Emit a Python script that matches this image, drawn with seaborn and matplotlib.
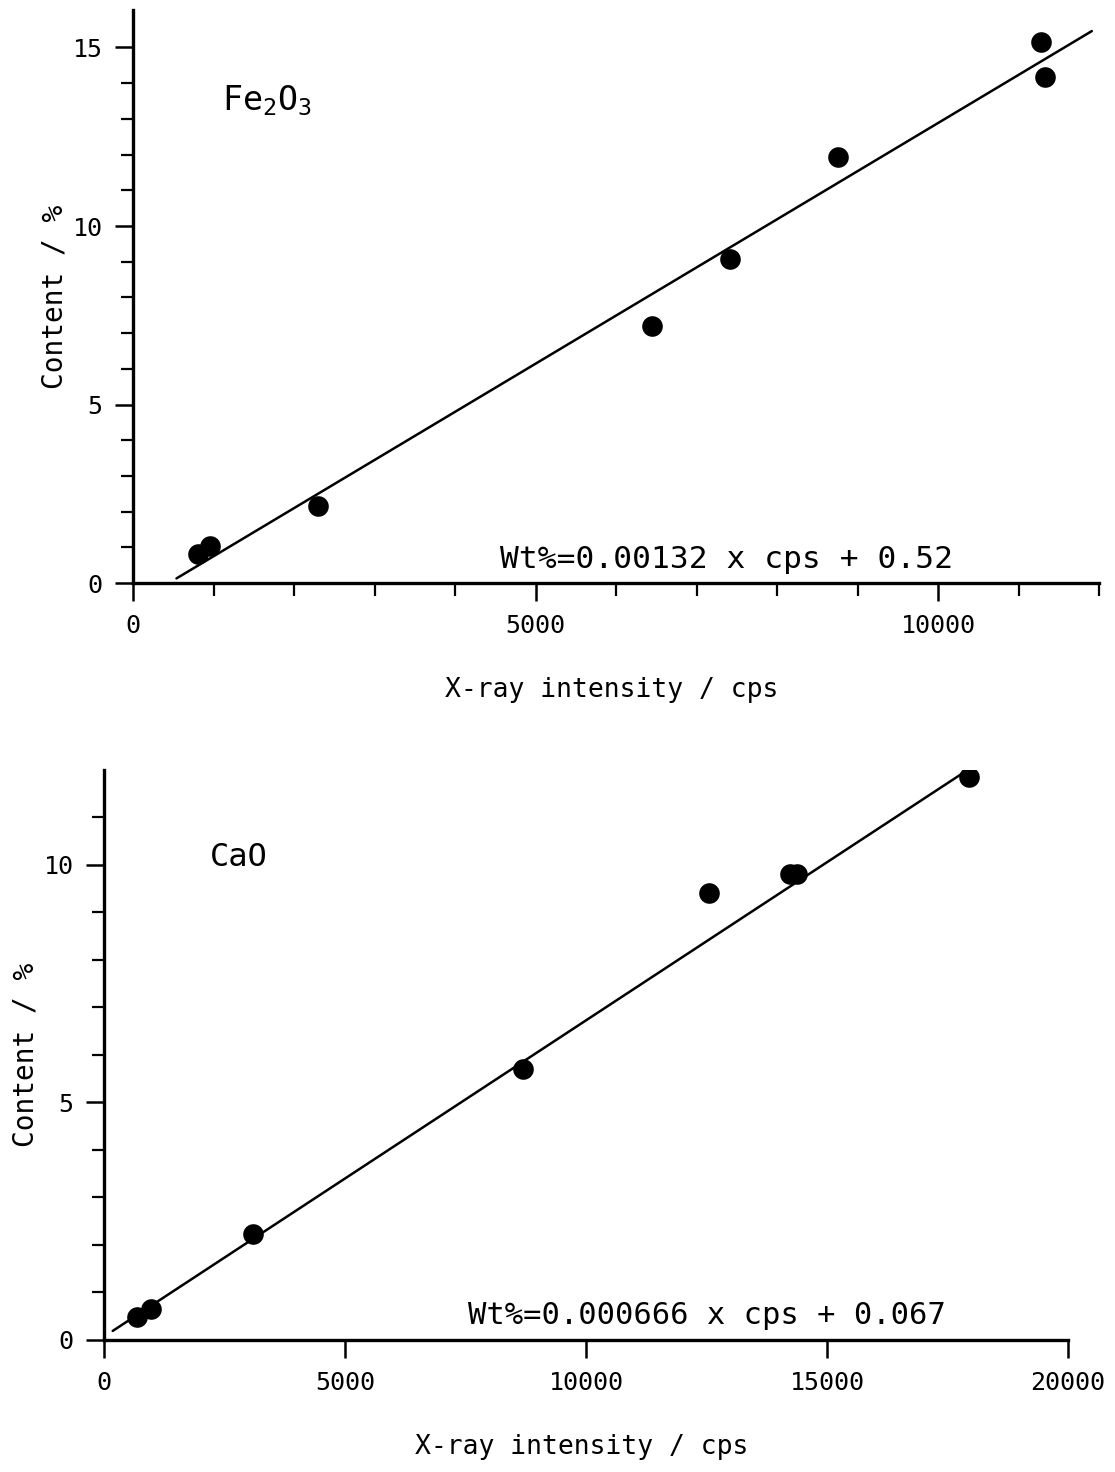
import matplotlib
matplotlib.use('Agg')
import matplotlib.pyplot as plt
import seaborn as sns
import pandas as pd
from matplotlib.ticker import FixedLocator

# ---------------- data ----------------
fe_cps = [806, 951, 2300, 6445, 7418, 8763, 11276, 11326]
fe_content = [0.80, 1.04, 2.16, 7.21, 9.09, 11.94, 15.15, 14.18]
fe_fit_cps = [540, 11910]
fe_fit_content = [0.13, 15.46]
fe_label = r"Fe$_{\mathregular{2}}$O$_{\mathregular{3}}$"
fe_equation = "Wt%=0.00132 x cps + 0.52"
fe_xticks = [0, 5000, 10000]
fe_yticks = [0, 5, 10, 15]

ca_cps = [687, 971, 3089, 8682, 12541, 14228, 14373, 17948]
ca_content = [0.49, 0.65, 2.23, 5.71, 9.42, 9.81, 9.81, 11.86]
ca_fit_cps = [180, 17870]
ca_fit_content = [0.19, 11.97]
ca_label = "CaO"
ca_equation = "Wt%=0.000666 x cps + 0.067"
ca_xticks = [0, 5000, 10000, 15000, 20000]
ca_yticks = [0, 5, 10]

xlabel = "X-ray intensity / cps"
ylabel = "Content / %"

# ---------------- style ----------------
sns.set_style("ticks")
FONT = ['DejaVu Sans Mono', 'DejaVu Sans']
plt.rcParams['font.family'] = FONT
plt.rcParams['text.color'] = 'black'
plt.rcParams['axes.labelcolor'] = 'black'
plt.rcParams['mathtext.fontset'] = 'custom'
plt.rcParams['mathtext.rm'] = 'DejaVu Sans Mono'
plt.rcParams['mathtext.it'] = 'DejaVu Sans Mono'

fig = plt.figure(figsize=(11.15, 14.72), dpi=100)
ax1 = fig.add_axes([0.1193, 0.6039, 0.8664, 0.3893])
ax2 = fig.add_axes([0.0933, 0.0897, 0.8646, 0.3872])

fe_df = pd.DataFrame({"cps": fe_cps, "content": fe_content})
fe_fit = pd.DataFrame({"cps": fe_fit_cps, "content": fe_fit_content})
ca_df = pd.DataFrame({"cps": ca_cps, "content": ca_content})
ca_fit = pd.DataFrame({"cps": ca_fit_cps, "content": ca_fit_content})


def style_axes(ax, xlim, ylim, xticks, yticks, xminor, yminor):
    for s in ("top", "right"):
        ax.spines[s].set_visible(False)
    for s in ("left", "bottom"):
        ax.spines[s].set_linewidth(2.4)
        ax.spines[s].set_color("black")
    ax.set_xlim(*xlim)
    ax.set_ylim(*ylim)
    ax.set_xticks(xticks)
    ax.set_yticks(yticks)
    ax.set_xticklabels([str(t) for t in xticks])
    ax.set_yticklabels([str(t) for t in yticks])
    if xminor:
        ax.xaxis.set_minor_locator(FixedLocator(xminor))
    if yminor:
        ax.yaxis.set_minor_locator(FixedLocator(yminor))
    ax.tick_params(which="major", length=13, width=1.8, labelsize=18,
                   direction="out", pad=9, colors="black")
    ax.tick_params(which="minor", length=9, width=1.6, direction="out",
                   colors="black")
    ax.set_xlabel(xlabel, fontsize=19, va="center")
    ax.set_ylabel(ylabel, fontsize=20, va="center")
    ax.xaxis.set_label_coords(0.495, -0.187)
    ax.yaxis.set_label_coords(-0.081, 0.5)
    ax.patch.set_alpha(0)


# ---- top panel (Fe2O3) ----
sns.lineplot(data=fe_fit, x="cps", y="content", ax=ax1, color="black",
             linewidth=1.8)
sns.scatterplot(data=fe_df, x="cps", y="content", ax=ax1, color="black",
                s=220, edgecolor="black", linewidth=0, zorder=3)
style_axes(ax1, (0, 12000), (0, 16.05), fe_xticks, fe_yticks,
           [1000, 2000, 3000, 4000, 6000, 7000, 8000, 9000, 11000, 12000],
           [1, 2, 3, 4, 6, 7, 8, 9, 11, 12, 13, 14])
ax1.text(1100, 13.5, fe_label, fontsize=24, va="center", ha="left")
ax1.text(4560, 0.25, fe_equation, fontsize=22.5, va="bottom", ha="left")

# ---- bottom panel (CaO) ----
sns.lineplot(data=ca_fit, x="cps", y="content", ax=ax2, color="black",
             linewidth=1.8)
sns.scatterplot(data=ca_df, x="cps", y="content", ax=ax2, color="black",
                s=220, edgecolor="black", linewidth=0, zorder=3)
style_axes(ax2, (0, 20000), (0, 12.0), ca_xticks, ca_yticks,
           None, [1, 2, 3, 4, 6, 7, 8, 9, 11])
ax2.text(2200, 10.15, ca_label, fontsize=23, va="center", ha="left")
ax2.text(7550, 0.2, ca_equation, fontsize=22, va="bottom", ha="left")

fig.savefig("out.png", dpi=100, facecolor="white")
